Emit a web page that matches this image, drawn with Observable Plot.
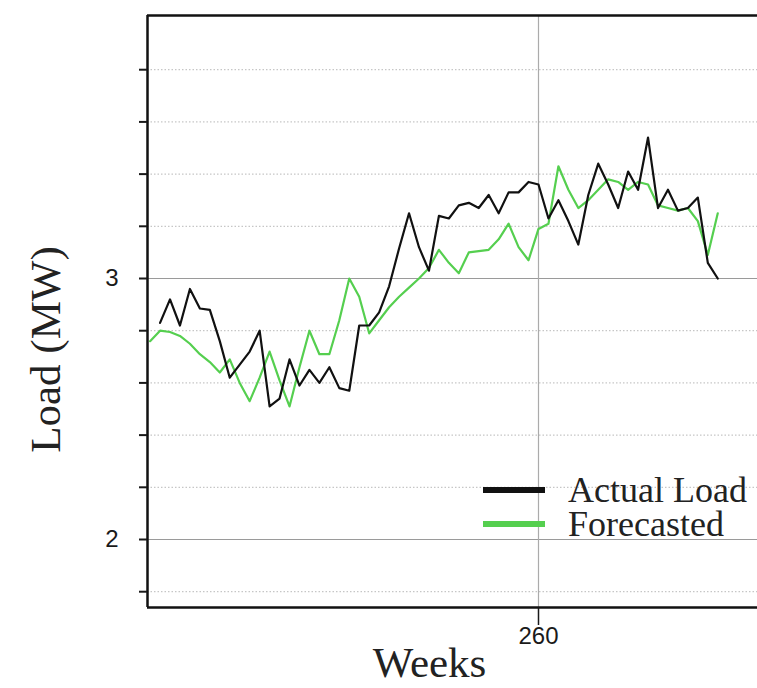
<!DOCTYPE html>
<html>
<head>
<meta charset="utf-8">
<script src="https://cdn.jsdelivr.net/npm/d3@7"></script>
<script src="https://cdn.jsdelivr.net/npm/@observablehq/plot@0.6"></script>
<style>
  body { margin: 0; background: #fff; }
  #wrap { position: relative; width: 757px; height: 688px; overflow: hidden; }
  #legend { position: absolute; left: 483px; top: 473px; font-family: "Liberation Serif", serif; font-size: 36px; color: #222; }
  .row { display: flex; align-items: center; height: 34px; }
  .sw { width: 62px; height: 6px; margin-right: 23px; }
  .lab { line-height: 34px; white-space: nowrap; }
</style>
</head>
<body>
<div id="wrap"></div>
<script>
// ---- data ----
const actualStart = 222;
const actualLoad = [
  2.83, 2.92, 2.82, 2.96, 2.885, 2.88, 2.76, 2.62, 2.67, 2.72,
  2.80, 2.51, 2.54, 2.69, 2.59, 2.65, 2.60, 2.66, 2.58, 2.57,
  2.82, 2.82, 2.87, 2.97, 3.115, 3.25, 3.12, 3.03, 3.24, 3.23,
  3.28, 3.29, 3.27, 3.32, 3.25, 3.33, 3.33, 3.37, 3.36, 3.23,
  3.30, 3.22, 3.13, 3.32, 3.44, 3.36, 3.27, 3.41, 3.34, 3.54,
  3.27, 3.34, 3.26, 3.27, 3.31, 3.06, 3.00
];
const forecastStart = 221;
const forecasted = [
  2.76, 2.80, 2.795, 2.78, 2.75, 2.71, 2.68, 2.64, 2.69, 2.60,
  2.53, 2.62, 2.72, 2.61, 2.51, 2.66, 2.80, 2.71, 2.71, 2.84,
  3.00, 2.93, 2.79, 2.84, 2.89, 2.93, 2.965, 3.00, 3.04, 3.11,
  3.06, 3.02, 3.10, 3.105, 3.11, 3.15, 3.21, 3.12, 3.07, 3.19,
  3.21, 3.43, 3.34, 3.27, 3.30, 3.34, 3.38, 3.37, 3.34, 3.37,
  3.36, 3.28, 3.27, 3.26, 3.27, 3.22, 3.09, 3.25
];
const xTicks = [260];
const yTickLabels = [2, 3];
const yMinorTicks = [1.8, 2.0, 2.2, 2.4, 2.6, 2.8, 3.0, 3.2, 3.4, 3.6, 3.8];
const seriesNames = ["Actual Load", "Forecasted"];
const seriesColors = ["#111111", "#55cf4f"];
const xLabel = "Weeks";
const yLabel = "Load (MW)";
const xDomain = [220.74, 281.99];
const yDomain = [1.7395, 4.0077];

// ---- build ----
const actualData = actualLoad.map((v, i) => ({week: actualStart + i, load: v}));
const forecastData = forecasted.map((v, i) => ({week: forecastStart + i, load: v}));
const isLabeled = t => yTickLabels.some(l => Math.abs(l - t) < 1e-9);
const dotted = yMinorTicks.filter(t => !isLabeled(t));

const chart = Plot.plot({
  width: 757, height: 688,
  marginLeft: 147, marginRight: 0, marginTop: 15, marginBottom: 81,
  style: {background: "white", fontFamily: "Liberation Sans, sans-serif", color: "#1a1a1a"},
  x: {domain: xDomain},
  y: {domain: yDomain},
  marks: [
    Plot.ruleY(dotted, {stroke: "#b8b8b8", strokeDasharray: "1.5,2"}),
    Plot.ruleY(yTickLabels, {stroke: "#9a9a9a", strokeWidth: 1.2}),
    Plot.ruleX(xTicks, {stroke: "#ababab", strokeWidth: 1.2}),
    Plot.line(forecastData, {x: "week", y: "load", stroke: seriesColors[1], strokeWidth: 2.2}),
    Plot.line(actualData, {x: "week", y: "load", stroke: seriesColors[0], strokeWidth: 2.2}),
    Plot.ruleX([xDomain[0]], {stroke: "#111", strokeWidth: 2.5}),
    Plot.ruleY([yDomain[0]], {stroke: "#111", strokeWidth: 2.5}),
    Plot.ruleY([yDomain[1]], {stroke: "#111", strokeWidth: 2.5}),
    Plot.axisY({ticks: yMinorTicks, tickSize: 8, tickPadding: 21, strokeWidth: 2,
      fontSize: 24, tickFormat: d => isLabeled(d) ? String(Math.round(d)) : "", label: null}),
    Plot.axisX({ticks: xTicks, tickSize: 18, tickPadding: 1, strokeWidth: 1.5,
      fontSize: 24, tickFormat: d => String(d), label: null}),
    Plot.text([yLabel], {text: d => d, frameAnchor: "left", textAnchor: "middle", lineAnchor: "middle",
      dx: -101, dy: 38, rotate: -90,
      fontSize: 43, fontFamily: "Liberation Serif, serif", fill: "#222"}),
    Plot.text([xLabel], {text: d => d, frameAnchor: "bottom", dx: -23, dy: 69,
      fontSize: 43, fontFamily: "Liberation Serif, serif", fill: "#222"})
  ]
});

const wrap = document.getElementById("wrap");
wrap.appendChild(chart);

const legend = document.createElement("div");
legend.id = "legend";
seriesNames.forEach((name, i) => {
  const row = document.createElement("div");
  row.className = "row";
  const sw = document.createElement("span");
  sw.className = "sw";
  sw.style.background = seriesColors[i];
  const lab = document.createElement("span");
  lab.className = "lab";
  lab.textContent = name;
  row.appendChild(sw);
  row.appendChild(lab);
  legend.appendChild(row);
});
wrap.appendChild(legend);
</script>
</body>
</html>
